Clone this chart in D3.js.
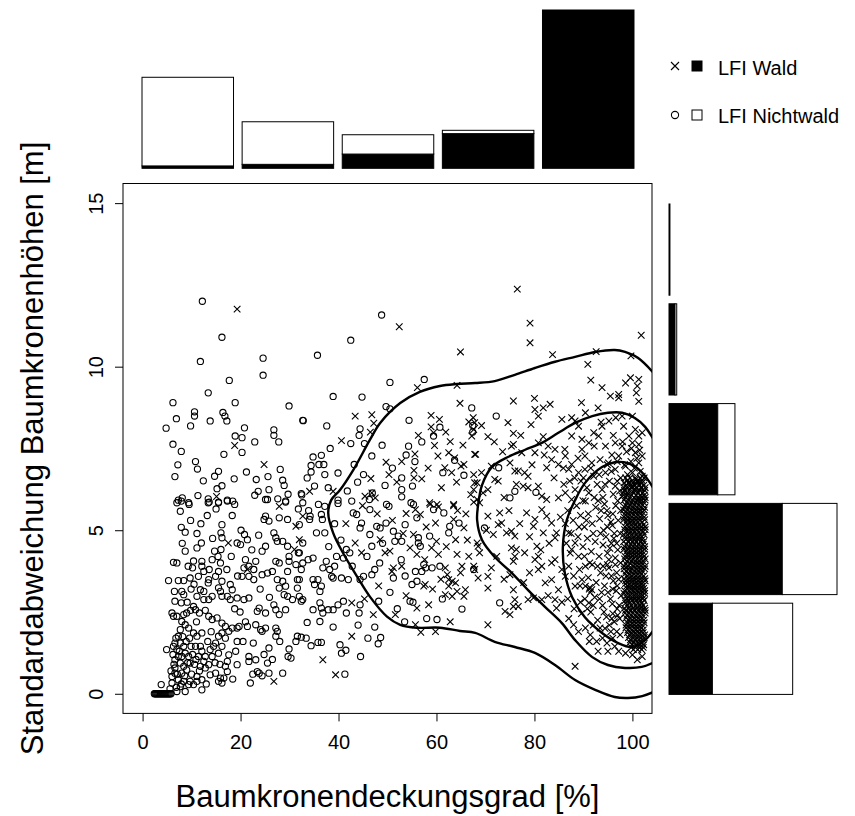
<!DOCTYPE html>
<html><head><meta charset="utf-8">
<script src="https://cdn.jsdelivr.net/npm/d3@7"></script>
<style>body{margin:0;background:#fff}svg{display:block;font-family:"Liberation Sans",Arial,Helvetica,sans-serif}</style>
</head><body><svg id="c" width="855" height="816"></svg>
<script>
// ---------- data ----------
const xTicks=[0,20,40,60,80,100];
const yTicks=[0,5,10,15];
const coverBins=["0-20","20-40","40-60","60-80","80-100"];
const coverWald=[15,25,90,219,1000];
const coverNichtwald=[560,269,122,21,0];
const sdBins=["12-15","9-12","6-9","3-6","0-3"];
const sdWald=[6,38,309,718,275];
const sdNichtwald=[0,11,109,347,509];
const legendLabels=["LFI Wald","LFI Nichtwald"];
const xTitle="Baumkronendeckungsgrad [%]";
const yTitle="Standardabweichung Baumkronenhöhen [m]";

const nichtwald=[
[12.2,12.0],[16.2,10.9],[11.8,10.16],[24.6,10.26],[24.6,9.74],[17.7,9.58],[13.4,9.2],[6.2,8.9],[18.9,8.9],[29.9,8.8],[10.6,8.62],[10.6,8.49],[6.9,8.41],[16.4,8.6],[16.8,8.49],[17.2,8.34],[13.8,8.34],[4.8,8.12],[9.8,8.19],[20.8,8.13],[18.9,7.88],[20.3,7.83],[26.8,8.07],[26.8,7.9],[27.8,7.7],[22.9,7.7],[32.7,8.36],[6.2,7.63],[7.9,7.41],[20.3,7.38],[16.6,7.32],[7.2,7.0],[10.8,7.1],[11.2,6.87],[6.6,6.64],[12.4,6.51],[14.7,6.65],[15.5,6.8],[16.2,6.36],[15.2,6.27],[18.7,6.57],[21.2,6.78],[23.2,6.55],[25.6,6.64],[28.1,6.86],[28.6,6.53],[28.9,6.37],[23.6,6.19],[22.9,6.07],[25.8,6.24],[25.5,5.94],[27.6,5.96],[29.7,6.1],[32.5,6.08],[11.3,6.06],[8.1,5.99],[7.3,5.92],[9.4,5.84],[13.4,5.96],[13.6,5.86],[15.5,5.84],[17.3,5.92],[18.4,5.89],[29.2,5.89],
[7.0,5.84],[7.9,5.89],[7.7,5.58],[9.5,5.79],[13.4,5.84],[15.5,5.86],[15.0,5.65],[17.3,5.89],[18.8,5.79],[18.3,5.45],[29.2,5.86],[31.8,5.65],[25.1,5.94],
[16.2,5.17],[25.1,5.43],[25.8,5.28],[24.8,5.33],[29.6,5.33],[27.9,5.38],[7.9,5.09],[8.7,4.94],[11.1,4.9],[16.0,4.92],[16.2,4.77],[20.1,5.0],[20.8,4.87],[21.4,4.71],[19.3,4.61],[20.0,4.56],[26.8,4.92],[27.2,4.77],[27.5,4.66],[28.6,4.66],[29.6,4.51],[29.9,4.2],[31.8,4.31],
[8.7,4.36],[12.0,4.61],[11.1,4.46],[12.1,4.05],[14.7,4.36],[16.0,4.41],[15.4,4.2],[15.9,4.0],[14.2,4.1],
[6.3,4.02],[7.0,4.0],[10.4,4.06],[10.2,3.85],[12.1,3.9],[12.5,3.74],[11.4,3.59],[13.6,3.8],[15.5,3.74],[14.9,3.59],
[5.3,3.46],[7.3,3.46],[8.4,3.46],[9.7,3.54],[13.5,3.49],[13.4,3.39],[16.2,3.44],[15.5,3.24],[15.9,3.13],[17.9,3.34],[18.3,3.18],
[6.5,3.13],[8.0,3.13],[8.4,3.03],[6.6,2.83],[7.9,2.78],[11.8,3.18],[12.5,3.13],[11.1,2.98],[14.2,2.98],[12.5,2.88],[13.5,2.88],[10.4,2.67],[10.8,2.57],[11.6,2.47],
[16.2,2.98],[17.3,2.98],[17.9,2.88],[19.3,2.93],[20.7,2.88],[21.7,2.93],
[23.8,2.62],[23.4,2.52],[25.1,2.47],[26.8,2.72],[27.2,2.57],[27.9,2.42],[29.2,2.57],[29.6,2.98],[28.9,3.03],[31.6,3.23],[32.0,2.98],[30.6,2.88],
[20.3,3.59],[21.7,3.59],[22.7,3.49],[24.4,3.64],[25.5,3.69],[26.5,3.74],[27.5,3.49],[28.6,3.44],[29.2,3.29],[27.9,3.23],
[20.7,3.85],[21.7,3.9],[22.7,3.8],[23.1,4.05],[21.0,4.1],
[24.4,4.36],[25.1,4.51],[27.2,4.05],[27.9,4.0],[29.9,4.05],[31.3,3.95],[29.6,3.74],[31.6,3.49],
[6.0,2.47],[6.3,2.37],[7.0,2.37],[8.4,2.42],[9.0,2.47],[8.0,2.21],[8.7,2.11],[9.4,2.01],
[7.7,1.96],[7.3,1.76],[6.6,1.55],[6.3,1.45],[7.0,1.35],[7.3,1.14],[8.0,1.14],[8.7,1.24],[9.4,1.14],[6.6,1.04],[7.7,0.94],[8.4,0.84],[9.7,0.94],[9.0,0.73],[8.0,0.63],[6.6,0.63],[6.0,0.53],[7.3,0.43],[8.4,0.38],[9.4,0.28],[7.7,0.22],[7.0,0.07],[8.7,0.07],[6.0,0.33],[6.6,0.79],[7.7,1.55],[8.4,1.45],
[10.4,1.86],[11.1,1.76],[12.1,1.86],[11.8,1.45],[10.8,1.45],[12.1,1.3],[12.8,1.14],[11.4,1.14],[12.5,0.99],[11.8,0.84],[12.8,0.79],[13.5,0.89],[11.1,0.53],[12.1,0.43],[11.1,0.38],[10.4,0.28],[9.7,0.38],[12.1,0.12],[13.8,0.58],[14.9,0.63],[15.5,0.38],[16.2,0.33],[15.9,0.48],[17.3,0.68],[16.9,0.84],
[13.5,2.37],[14.2,2.27],[15.2,2.32],[16.2,2.16],[16.9,2.06],[17.6,1.91],[18.3,2.01],[16.2,1.86],[15.5,1.76],[16.9,1.70],[14.9,1.55],[16.2,1.45],[15.5,1.24],[14.5,1.45],[14.2,1.14],[17.6,1.19],[17.3,0.99],[19.3,1.60],[19.3,2.01],[19.7,2.06],[21.4,2.06],[23.1,2.11],[24.1,1.96],[24.4,1.91],[25.1,2.01],[27.2,2.01],[27.5,1.91],[27.2,1.76],[25.8,1.40],[25.5,0.94],[21.7,1.14],[21.7,0.99],[23.1,1.04],[23.4,0.68],[23.8,0.63],[24.4,0.55],[25.8,0.63],[28.6,0.63],[22.0,0.33],[19.3,0.89],[16.6,0.48],[29.9,1.37],[29.7,1.14],[30.3,1.09],[31.3,1.60],[31.6,1.76],[4.9,1.35],[3.8,0.28],
[2.4,0],[2.6,0],[2.8,0],[3.0,0],[3.2,0],[3.4,0],[3.6,0],[3.8,0],[4.0,0],[4.2,0],[4.4,0],[4.6,0],[4.8,0],[5.0,0],[5.2,0],[5.4,0],[5.6,0],[5.8,0],
[6.2,1.2],[6.8,1.7],[7.5,1.3],[8.2,1.75],[8.9,1.6],[9.6,1.7],[10.2,1.2],[6.4,0.9],[7.1,0.6],[7.9,0.3],[8.6,0.55],[9.2,0.95],[10.0,0.6],[10.6,0.9],[6.9,0.2],[5.8,0.7],[5.6,0.15],[9.9,1.45],[10.9,1.05],[11.6,0.7],[13.0,0.3],[13.3,1.6],[14.0,1.9],[14.8,0.95],[15.8,0.9],[18.4,0.45],[19.0,1.3],[20.5,1.6],[22.5,0.6],[24.8,1.2],[26.5,1.05],[28.0,1.6],[9.1,2.8],[9.9,3.2],[10.5,3.35],[9.3,3.9],[8.1,4.6],[9.8,5.3],[11.9,5.2],[13.2,5.45],[14.3,4.75],[18.1,4.2],[19.4,3.6],[17.2,3.8],[22.3,4.4],[23.7,4.85],[24.0,3.2],[25.9,2.95],[19.9,2.5],[21.0,2.2],[22.6,1.55],[18.8,2.6],[12.8,2.55],[13.8,1.35],[11.0,2.2],[9.8,2.55],
[48.8,11.58],[42.5,10.81],[35.7,10.35],[50.5,9.52],[57.5,9.61],[38.9,9.09],[44.8,9.07],[49.7,8.78],[50.5,8.71],[67.2,8.74],[32.8,8.35],[37.6,8.19],[44.4,8.1],[54.4,8.36],[60.7,8.15],[59.4,7.88],[67.4,8.2],[67.4,8.0],[42.5,7.65],[45.3,7.65],[54.3,7.57],[55.6,7.1],[46.8,7.27],[63.7,7.14],[34.8,7.24],[36.5,7.29],[34.4,6.98],[36.0,7.01],[37.0,7.01],[43.2,7.01],[61.3,6.76],[65.6,6.68],[33.6,6.6],[34.4,6.78],[37.2,6.7],[35.1,6.35],[45.1,6.7],[43.9,6.47],[52.9,6.6],[55.1,6.35],[49.5,6.37],[52.9,6.24],[32.4,6.12],[46.9,6.14],[46.3,5.94],[42.7,5.89],[39.9,5.92],[52.9,6.02],[54.8,5.84],[49.8,5.79],
[35.9,5.79],[37.2,5.73],[34.2,5.43],[36.5,5.48],[36.7,5.33],[39.2,5.2],[35.5,4.92],[37.2,4.92],[39.9,5.82],[43.0,5.53],[43.7,5.48],[44.7,5.22],[44.4,5.07],[46.4,5.63],[47.8,5.12],[48.5,5.07],[49.7,5.22],[50.3,5.73],[51.2,4.97],[52.2,4.82],[52.9,4.66],[51.5,4.66],[53.6,5.17],[55.3,5.79],[56.0,5.38],[58.6,4.82],[56.3,4.77],[56.3,4.61],[56.7,4.51],[57.4,3.95],[57.8,3.85],[55.7,3.74],[57.0,3.74],[59.1,3.85],[55.0,3.34],[56.0,3.44],[54.6,2.83],[55.2,2.8],[60.1,2.27],[65.2,2.59],[62.5,4.92],[62.7,5.12],[64.6,5.22],[67.6,3.8],[61.5,5.53],[59.4,5.63],[52.8,4.1],[51.2,3.54],[48.4,4.0],[48.2,2.83],[46.8,4.51],[46.4,4.87],[47.4,3.8],[46.8,3.64],[45.1,3.59],[44.4,3.49],[42.0,3.49],[40.6,3.54],[38.9,3.54],[42.3,4.31],[41.6,4.41],[39.6,4.2],[41.0,4.15],[39.2,3.9],[38.2,3.8],[38.6,3.59],[37.5,4.05],[36.8,3.85],[34.8,3.49],[35.1,3.34],[35.8,3.49],[36.5,3.29],[36.2,3.13],[32.0,3.49],[32.7,2.88],[32.4,2.83],[34.8,2.57],[36.2,2.78],[36.5,2.62],[36.8,2.47],[37.9,2.57],[38.9,2.57],[39.9,2.72],[41.0,2.83],[33.6,2.18],[36.2,2.21],[38.9,2.04],[41.6,2.47],[44.2,2.47],[44.4,2.72],[47.4,2.04],[48.6,1.72],[48.1,1.53],[32.4,1.73],[33.4,1.7],[34.4,1.47],[35.8,1.57],[36.5,1.57],[40.3,1.5],[40.6,1.24],[41.5,1.33],[44.5,1.14],[41.3,0.6],[32.7,5.84],[34.1,5.33],[32.0,5.17],[32.7,4.61],[32.0,4.31],[32.7,4.0],[33.8,4.1],[34.8,4.15],[32.4,3.8],
[38.0,4.5],[40.5,4.7],[42.8,3.9],[45.8,4.2],[44.0,2.1],[46.0,1.7],[50.5,3.1],[53.6,3.6],[52.0,2.6],[49.0,4.6],[53.5,2.2],[58.0,2.3],[61.2,2.9],[60.7,3.9],[33.9,5.6],[37.9,6.3],[39.9,6.75],[41.8,6.2],[38.3,7.5],[44.2,7.9],[48.9,7.6],[51.0,6.9],[53.8,7.3],[57.0,7.7],
[72.2,8.49],[72.7,6.91],[76.0,6.19],[75.0,5.99],[80.3,6.16],[69.8,5.07],[72.9,2.78]
];

const wald=[
[19.3,11.76],[18.8,7.59],[24.8,7.01],[15.1,6.03],
[27.9,5.73],[31.3,5.12],[17.5,4.61],[31.0,4.41],[32.0,4.71],[26.8,0.38],[21.4,3.8],
[52.4,11.22],[64.9,10.45],[56.1,9.36],[64.2,9.43],[64.8,8.88],[43.4,8.49],[46.8,8.53],[47.2,8.27],[46.5,8.0],[58.9,8.51],[60.6,8.39],[58.9,8.16],[59.4,7.98],[59.6,7.59],[66.6,8.31],[67.5,8.44],[67.6,8.08],[67.2,7.88],[68.0,7.32],[40.6,7.74],[62.8,7.71],[55.6,7.33],[49.7,7.08],[60.3,7.27],[62.5,7.37],[63.7,7.21],[65.0,6.96],[65.6,7.01],[61.7,6.91],[63.1,6.76],[64.1,6.47],[67.6,6.7],[68.3,6.45],[46.6,6.58],[55.4,6.83],[57.0,6.57],[55.4,6.6],[51.9,6.47],[38.9,6.19],[34.1,6.19],[45.4,6.04],[46.8,6.14],[47.5,5.99],[58.6,5.84],[60.1,5.79],[63.5,5.79],[67.0,6.09],[67.6,6.24],[68.3,5.94],
[32.7,5.43],[53.8,5.51],[55.7,5.63],[56.7,5.48],[58.7,5.79],[60.4,5.71],[63.5,5.75],[67.6,5.86],[59.8,5.22],[63.5,5.33],[65.6,5.07],[48.5,4.71],[49.5,4.31],[50.5,4.36],[54.6,4.46],[55.3,4.87],[56.0,4.26],[59.0,4.46],[60.0,4.66],[60.4,4.26],[64.2,4.26],[63.9,4.71],[66.6,4.2],[65.2,3.9],[67.6,3.9],[68.3,4.61],[51.2,3.85],[52.9,3.9],[50.9,3.74],[61.8,3.85],[62.2,3.64],[62.5,3.49],[63.2,3.44],[63.9,3.39],[62.5,3.29],[64.2,3.13],[61.8,3.03],[63.2,2.98],[65.6,2.98],[65.9,3.18],[57.4,3.29],[57.7,3.34],[56.0,2.62],[58.4,2.72],[42.7,2.78],[47.1,2.42],[51.6,2.42],[55.7,2.11],[56.8,1.88],[42.7,1.76],[36.8,1.04],[39.4,0.58],[44.7,4.31],[43.4,4.61],
[41.5,5.2],[44.9,5.75],[47.9,5.5],[51.0,5.3],[53.2,4.9],[57.6,4.1],[59.2,3.2],[60.9,3.5],[64.9,3.7],[66.3,4.7],[62.0,4.5],[57.9,5.1],[50.3,6.7],[52.9,7.1],[56.3,7.9],[61.9,8.0],[65.4,7.6],[58.3,6.9],[61.0,6.3],[64.3,5.6],[66.0,5.5],[48.2,3.3],[45.3,2.9],[53.8,3.0],[59.8,1.9],[62.8,2.2],
[76.5,12.37],[79.1,11.33],[79.1,10.73],[101.8,10.96],[83.7,10.37],[92.6,10.46],[99.7,10.33],[90.9,10.07],[91.5,9.59],[93.8,9.36],[99.6,9.66],[101.3,9.61],[101.0,9.41],[100.8,9.2],[101.3,8.94],[97.2,9.15],[97.2,9.05],
[87.6,7.88],[89.7,7.78],[91.1,7.67],[92.1,7.98],[93.1,7.88],[92.2,7.57],[94.5,7.57],[96.5,7.67],[97.9,7.57],[99.3,7.88],[100.0,7.67],[101.3,7.62],[100.6,7.37],[102.0,7.27],[97.2,7.27],[95.1,7.06],[93.4,7.16],[91.7,7.06],[90.3,7.27],[89.7,7.47],[86.3,7.27],[84.9,7.01],[83.5,7.16],[87.0,6.86],[90.3,6.86],[92.1,6.65],[94.5,6.76],[96.5,6.86],[98.6,6.96],[100.0,6.76],[101.3,7.06],[102.0,6.65],[99.3,6.45],[96.5,6.35],[93.8,6.24],[91.1,6.14],[88.3,6.24],[86.3,6.14],[84.9,5.99],[87.6,5.94],[90.4,5.89],[97.9,6.04],[100.6,6.24],[101.3,5.94],[81.5,6.04],[82.5,5.94],[78.7,6.3],[80.8,6.35],[77.7,6.35],[76.3,6.4],[72.6,6.5],[71.9,6.55],[78.0,6.76],[78.7,6.65],[76.0,6.81],[76.7,6.81],[75.0,7.06],[82.5,6.91],[87.6,7.01],[89.0,6.76],[67.8,7.32],[71.2,6.96],[69.2,6.76],[69.5,6.14],[67.8,6.45],[70.5,6.24],[81.8,7.86],[80.8,7.67],[82.8,7.57],[84.2,7.47],[86.2,7.47],[80.1,7.37],[77.4,7.37],[75.7,7.62],[75.3,7.57],[85.6,8.39],[87.6,8.44],[88.3,8.34],[90.4,8.59],[93.0,8.74],[89.0,8.18],[93.8,8.18],[95.2,8.34],[96.6,8.44],[97.9,8.49],[100.0,8.49],[98.2,8.18],[100.6,8.08],[101.3,7.88],[102.0,7.98],[74.6,8.29],[79.3,8.23],[75.7,7.96],[70.5,7.86],[69.2,8.2],[67.8,8.29],[75.7,8.95],[80.0,9.03],[80.1,8.69],[81.8,8.74],[83.2,8.85],[80.8,8.49],
[68.8,5.84],[70.5,5.43],[72.9,5.53],[73.3,5.22],[72.6,5.17],[75.3,4.97],[76.0,4.82],[74.3,4.92],[71.6,4.87],[78.4,5.53],[80.1,5.33],[79.8,5.12],[81.5,5.63],[82.5,5.43],[83.5,5.22],[84.5,4.92],[84.2,4.77],[81.8,4.92],[75.3,4.46],[76.3,4.41],[76.0,4.2],[75.7,4.05],[78.0,4.31],[80.5,4.51],[80.8,4.2],[80.1,4.1],[68.5,4.51],[68.8,4.31],[67.8,3.8],[68.5,3.54],[70.5,3.59],[71.2,3.85],[70.5,3.23],[75.0,3.64],[75.7,3.18],[76.0,2.88],[75.7,2.67],[74.0,2.52],[75.0,2.42],[76.7,2.67],[78.7,2.88],[79.8,2.93],[81.5,2.88],[84.2,2.88],[84.5,2.62],[80.8,3.8],[81.5,3.9],[83.5,4.0],[84.2,4.1],[85.6,3.8],[86.3,3.59],[83.5,3.49],[82.2,3.39],[84.9,3.18],[70.5,2.11],[88.3,0.84],[88.0,2.11],[90.4,2.01],[91.4,1.8],[93.4,2.01],[97.2,1.3],[98.6,1.24],[100.0,1.19],[101.0,1.04],[102.0,1.14],[87.0,4.92],[88.3,4.61],[87.6,4.41],[89.0,4.2],[90.4,3.9],[89.7,3.49],[88.3,3.29],[90.4,3.29],[91.7,3.18],[91.1,2.78],
[73.8,6.0],[74.8,5.6],[77.0,5.2],[79.0,4.8],[81.3,4.4],[83.0,4.6],[85.3,5.4],[86.0,6.4],[84.0,6.6],[82.0,7.3],[79.5,7.0],[77.2,7.9],[73.5,7.4],[71.8,7.7],[70.2,5.0],[72.3,4.2],[73.8,3.5],[77.8,3.4],[79.0,3.7],[82.8,3.0],[85.6,2.8],[87.0,2.3],[89.0,1.9],[89.9,5.9],[92.2,6.0],[94.9,7.0],[96.1,7.9],[93.6,8.3],[89.6,8.9],[95.5,9.1],[98.6,9.5],
[86.8,5.6],[87.9,5.3],[88.6,5.75],[89.4,5.45],[90.2,5.1],[91.0,5.5],[91.8,5.2],[92.5,5.7],[93.3,5.35],[94.1,5.0],[94.8,5.6],[95.6,5.25],[96.3,4.9],
[86.5,4.6],[87.3,4.3],[88.9,4.8],[89.9,4.5],[90.8,4.75],[91.6,4.35],[92.4,4.65],[93.2,4.2],[94.0,4.55],[94.9,4.3],[95.7,4.6],[96.5,4.15],
[87.0,3.9],[88.0,3.6],[89.2,3.8],[91.0,3.55],[91.8,3.95],[92.6,3.4],[93.5,3.7],[94.3,3.3],[95.2,3.85],[96.1,3.45],[96.8,3.7],
[86.8,2.9],[88.1,2.6],[89.6,2.45],[90.3,2.9],[91.5,2.5],[92.3,2.95],[92.9,2.25],[93.9,2.7],[94.7,2.35],[95.5,2.9],[96.3,2.2],[96.9,2.6],
[91.2,3.2],[91.4,3.1],[91.3,3.25],[93.9,1.7],[94.8,1.55],[95.6,1.9],[96.4,1.45],[92.7,1.6],
[88.2,6.6],[89.5,6.5],[90.7,6.3],[92.8,6.4],[94.0,6.0],[95.3,6.5],[96.1,6.1],[97.0,5.9],
[95.8,7.3],[96.9,7.1],[97.6,6.6],[98.4,7.0],[99.0,6.7],[99.7,7.1],[100.4,6.9],[101.0,6.5],[101.6,6.8],[98.0,7.7],[98.8,7.4],[99.8,7.5],[100.9,7.2],[101.5,7.45],[97.4,6.2],[98.3,6.3],[99.1,6.1],[99.9,6.35],[100.7,6.55],[101.8,6.3],
[94.3,5.8],[95.0,5.45],[95.9,5.15],[96.6,5.75],[97.1,5.3],[94.6,4.8],[95.4,4.45],[96.2,4.75],[97.0,4.4],[94.9,3.95],[95.7,3.6],[96.5,3.95],[97.2,3.5],[95.0,3.1],[95.9,2.75],[96.7,3.15],[97.3,2.7],[95.3,2.1],[96.0,2.45],[96.8,1.9],[97.4,2.3],[93.5,4.9],[93.0,5.9],[93.7,3.1],[94.4,2.0],
[85.9,6.9],[87.2,6.5],[88.9,7.2],[90.0,6.6],[91.5,6.9],[93.2,6.7],[94.4,6.4],[95.7,6.8],[96.9,6.5],[97.6,5.6],[96.0,5.5],[94.9,5.1],[93.6,5.6],[92.0,4.9],[90.6,5.3],[89.1,5.1],[87.5,4.9],[86.3,5.2],[97.5,4.9],[96.8,4.6],[95.2,4.1],[94.0,3.9],[92.9,3.9],[91.3,4.0],[90.2,4.2],[89.3,3.3],[97.6,4.0],[96.9,3.3],[96.0,3.2],[94.6,3.6],[93.3,2.9],[92.0,2.7],[90.8,2.6],[89.4,2.8],[97.7,3.0],[97.0,2.4],[95.8,2.3],[94.2,2.5],[92.0,2.1],[91.2,1.6],[96.0,1.7],[97.5,1.8],[95.0,1.3],[93.0,1.3]
];

// dense core of the Wald cloud, read row by row: [sd, [cover values]]
const waldDenseRows=[
[6.6,[98.6,99.5,100.6,101.6,102.4]],
[6.52,[99.0,100.0,101.1,102.0]],
[6.45,[98.3,99.2,100.1,101.1,102.0]],
[6.37,[98.7,99.6,100.5,101.4,102.3]],
[6.3,[98.8,99.8,100.7,101.7,102.6]],
[6.22,[98.4,99.4,100.4,101.5,102.5]],
[6.15,[98.1,99.0,100.3,101.2,102.2]],
[6.07,[98.9,99.9,100.8,101.6,102.4]],
[6.0,[98.6,99.4,100.3,101.1,101.9,102.6]],
[5.92,[98.3,99.2,100.0,100.9,101.8,102.6]],
[5.85,[98.9,99.8,100.6,101.5,102.3]],
[5.77,[98.6,99.5,100.4,101.3,102.1]],
[5.7,[98.4,99.2,100.1,100.9,101.7,102.5]],
[5.62,[98.2,99.0,99.9,100.7,101.5,102.4]],
[5.55,[98.7,99.6,100.5,101.3,102.1]],
[5.47,[98.6,99.5,100.3,101.1,102.0]],
[5.4,[98.3,99.1,99.9,100.8,101.6,102.4]],
[5.32,[98.2,99.0,99.9,100.7,101.5,102.5]],
[5.25,[98.8,99.7,100.4,101.2,102.0]],
[5.17,[98.9,99.8,100.6,101.4,102.3]],
[5.1,[98.5,99.3,100.2,101.0,101.8,102.6]],
[5.02,[98.4,99.2,100.1,100.9,101.8,102.6]],
[4.95,[99.0,99.8,100.6,101.4,102.2]],
[4.87,[98.2,99.0,99.9,100.8,101.6,102.4]],
[4.8,[98.6,99.4,100.3,101.1,101.9]],
[4.72,[98.7,99.5,100.4,101.2,102.0]],
[4.65,[98.2,99.1,99.9,100.7,101.6,102.3]],
[4.57,[98.8,99.7,100.5,101.3,102.2]],
[4.5,[98.4,99.3,100.1,100.9,101.7,102.5]],
[4.42,[98.3,99.1,100.0,100.8,101.6,102.5]],
[4.35,[98.8,99.7,100.5,101.3,102.1]],
[4.27,[98.9,99.7,100.5,101.3,102.1]],
[4.2,[98.5,99.2,100.0,100.8,101.6,102.4]],
[4.12,[98.4,99.3,100.1,101.0,101.8,102.6]],
[4.05,[98.9,99.8,100.6,101.4,102.2]],
[3.97,[98.7,99.6,100.5,101.3,102.1]],
[3.9,[98.3,99.1,100.2,101.0,101.8,102.6]],
[3.82,[98.3,99.2,100.0,100.9,101.7,102.5]],
[3.75,[98.7,99.5,100.4,101.2,102.0]],
[3.67,[98.5,99.4,100.3,101.1,101.9]],
[3.6,[99.0,99.9,100.7,101.5,102.3]],
[3.52,[98.3,99.1,100.0,100.8,101.6,102.5]],
[3.45,[98.6,99.4,100.2,101.1,101.9,102.6]],
[3.37,[98.6,99.5,100.4,101.2,102.0]],
[3.3,[98.9,99.7,100.6,101.4,102.2]],
[3.22,[98.9,99.8,100.6,101.4,102.3]],
[3.15,[98.4,99.3,100.1,100.9,101.7,102.5]],
[3.07,[98.3,99.2,100.0,100.8,101.7,102.5]],
[3.0,[98.8,99.6,100.5,101.3,102.1]],
[2.92,[98.9,99.8,100.6,101.4,102.2]],
[2.85,[98.5,99.2,100.0,100.8,101.6,102.4]],
[2.77,[98.6,99.4,100.3,101.1,101.9]],
[2.7,[99.0,99.8,100.7,101.5,102.2]],
[2.62,[98.4,99.2,100.1,100.9,101.7,102.5]],
[2.55,[98.6,99.5,100.3,101.1,101.9,102.6]],
[2.47,[98.5,99.3,100.1,101.0,101.8,102.6]],
[2.4,[98.9,99.7,100.5,101.3,102.1]],
[2.32,[98.7,99.5,100.4,101.2,102.0]],
[2.25,[99.2,100.0,100.8,101.6,102.3]],
[2.17,[99.0,99.9,100.7,101.5,102.4]],
[2.1,[98.7,99.6,100.4,101.2,102.0]],
[2.02,[98.7,99.5,100.4,101.1,101.9]],
[1.95,[99.1,99.9,100.7,101.5,102.2]],
[1.87,[99.0,99.8,100.6,101.4,102.2]],
[1.8,[99.4,100.2,101.0,101.8,102.5]],
[1.72,[99.2,100.1,100.9,101.7,102.4]],
[1.65,[99.6,100.5,101.3,102.1]],
[1.57,[99.5,100.3,101.2,101.9]],
[1.5,[99.9,100.8,101.6,102.3]],
[1.42,[99.8,100.6,101.5,102.2]],
[1.35,[100.2,101.1,101.9]]
];

// density contour lines
const contourOuter=[[105,9.7],[101.1,10.27],[98.5,10.45],[96.4,10.51],[92.4,10.45],[88.3,10.30],[84.2,10.15],[80.1,9.96],[76.0,9.75],[71.9,9.56],[67.9,9.50],[64.2,9.47],[60.7,9.41],[56.6,9.23],[52.6,8.89],[48.5,8.28],[46.4,7.76],[43.0,6.84],[40.3,6.23],[38.5,5.92],[37.9,5.53],[38.9,4.92],[40.9,4.31],[43.8,3.58],[46.4,2.97],[49.9,2.36],[52.6,2.11],[56.0,2.02],[60.7,2.02],[64.8,1.92],[67.9,1.86],[71.9,1.59],[76.0,1.43],[80.1,1.25],[84.2,0.88],[88.3,0.42],[92.4,0.12],[96.4,-0.10],[99.1,-0.13],[102.0,-0.07],[105,0.1]];
const contourMiddle=[[105,7.6],[102.6,8.16],[100.5,8.43],[97.9,8.59],[95.0,8.59],[91.8,8.49],[88.3,8.28],[84.8,7.97],[81.5,7.67],[78.1,7.46],[74.6,7.24],[71.3,6.93],[69.3,6.38],[68.5,5.77],[68.3,5.31],[69.3,4.70],[71.9,4.18],[75.4,3.69],[78.7,3.17],[82.2,2.65],[85.6,2.16],[88.3,1.64],[91.8,1.12],[95.0,0.88],[98.5,0.79],[101.9,0.82],[105,1.0]];
const contourInner=[[105,6.1],[101.9,6.78],[99.1,7.05],[96.4,7.08],[93.8,6.93],[90.3,6.44],[88.3,5.92],[86.6,5.31],[85.8,4.48],[86.2,3.69],[87.7,2.95],[90.3,2.34],[93.8,1.86],[97.1,1.55],[99.9,1.43],[102.6,1.64],[105,2.1]];

// ---------- drawing ----------
const svg=d3.select("#c");
const x=d3.scaleLinear().domain([-4,104]).range([123,652]);
const y=d3.scaleLinear().domain([-0.6,15.6]).range([713.4,183.5]);

svg.append("defs").append("clipPath").attr("id","clip")
  .append("rect").attr("x",x(-4)).attr("y",y(15.6)).attr("width",x(104)-x(-4)).attr("height",y(-0.6)-y(15.6));

const plot=svg.append("g").attr("clip-path","url(#clip)");

const allWald=wald.concat(waldDenseRows.flatMap(([sd,xs])=>xs.map(v=>[v,sd])));

plot.append("g").selectAll("circle").data(nichtwald).join("circle")
  .attr("cx",d=>x(d[0])).attr("cy",d=>y(d[1])).attr("r",3.1)
  .attr("fill","none").attr("stroke","#000").attr("stroke-width",1.1);

const cross="M-3.3,-3.3L3.3,3.3M-3.3,3.3L3.3,-3.3";
plot.append("g").selectAll("path").data(allWald).join("path")
  .attr("d",cross).attr("transform",d=>`translate(${x(d[0])},${y(d[1])})`)
  .attr("fill","none").attr("stroke","#000").attr("stroke-width",1.1);

const line=d3.line().x(d=>x(d[0])).y(d=>y(d[1])).curve(d3.curveCatmullRom.alpha(0.5));
plot.append("g").selectAll("path").data([contourOuter,contourMiddle,contourInner]).join("path")
  .attr("d",line).attr("fill","none").attr("stroke","#000").attr("stroke-width",2.4);

// box
svg.append("rect").attr("x",x(-4)).attr("y",y(15.6)).attr("width",x(104)-x(-4)).attr("height",y(-0.6)-y(15.6))
  .attr("fill","none").attr("stroke","#000").attr("stroke-width",1);

// axes
const gx=svg.append("g").attr("transform",`translate(0,${y(-0.6)})`)
  .call(d3.axisBottom(x).tickValues(xTicks).tickSize(8).tickSizeOuter(0));
gx.select(".domain").remove();
gx.selectAll("line").attr("stroke","#000");
gx.selectAll("text").attr("y",35.6).attr("dy",0).attr("font-size",20).attr("fill","#000").attr("font-family","Liberation Sans, Arial, sans-serif");

const gy=svg.append("g").attr("transform",`translate(${x(-4)},0)`)
  .call(d3.axisLeft(y).tickValues(yTicks).tickSize(8).tickSizeOuter(0));
gy.select(".domain").remove();
gy.selectAll("line").attr("stroke","#000");
gy.selectAll("text").attr("x",0).attr("y",-20).attr("dy",0).attr("text-anchor","middle")
  .attr("transform","rotate(-90)").attr("font-size",20).attr("fill","#000").attr("font-family","Liberation Sans, Arial, sans-serif");

svg.append("text").attr("x",(x(-4)+x(104))/2).attr("y",807).attr("text-anchor","middle")
  .attr("font-size",31).text(xTitle);
svg.append("text").attr("transform",`translate(43,${(y(-0.6)+y(15.6))/2}) rotate(-90)`).attr("text-anchor","middle")
  .attr("font-size",31).text(yTitle);

// top marginal bars
const bx=d3.scaleBand().domain(coverBins).range([137.7,638.3]).paddingInner(0.086).paddingOuter(0.043);
const by=d3.scaleLinear().domain([0,1000]).range([168.3,10]);
const topBars=svg.append("g");
coverBins.forEach((b,i)=>{
  const w=coverWald[i], n=coverNichtwald[i];
  topBars.append("rect").attr("x",bx(b)).attr("width",bx.bandwidth()).attr("y",by(w)).attr("height",by(0)-by(w))
    .attr("fill","#000").attr("stroke","#000").attr("stroke-width",1);
  if(n>0) topBars.append("rect").attr("x",bx(b)).attr("width",bx.bandwidth()).attr("y",by(w+n)).attr("height",by(w)-by(w+n))
    .attr("fill","#fff").attr("stroke","#000").attr("stroke-width",1);
});

// right marginal bars
const ry=d3.scaleBand().domain(sdBins).range([199.7,698.7]).paddingInner(0.086).paddingOuter(0.043);
const rx=d3.scaleLinear().domain([0,1065]).range([669,837]);
const rightBars=svg.append("g");
sdBins.forEach((b,i)=>{
  const w=sdWald[i], n=sdNichtwald[i];
  rightBars.append("rect").attr("y",ry(b)).attr("height",ry.bandwidth()).attr("x",rx(0)).attr("width",Math.max(rx(w)-rx(0),0.5))
    .attr("fill","#000").attr("stroke","#000").attr("stroke-width",1);
  if(n>0) rightBars.append("rect").attr("y",ry(b)).attr("height",ry.bandwidth()).attr("x",rx(w)).attr("width",rx(w+n)-rx(w))
    .attr("fill","#fff").attr("stroke","#000").attr("stroke-width",1);
});

// legend
const lg=svg.append("g");
lg.append("path").attr("d","M-4,-4L4,4M-4,4L4,-4").attr("transform","translate(675,66)").attr("fill","none").attr("stroke","#000").attr("stroke-width",1.1);
lg.append("rect").attr("x",692).attr("y",61).attr("width",10).attr("height",10).attr("fill","#000").attr("stroke","#000");
lg.append("text").attr("x",718).attr("y",75).attr("font-size",20).text(legendLabels[0]);
lg.append("circle").attr("cx",675).attr("cy",115).attr("r",3.6).attr("fill","none").attr("stroke","#000").attr("stroke-width",1.1);
lg.append("rect").attr("x",692).attr("y",110).attr("width",10).attr("height",10).attr("fill","#fff").attr("stroke","#000");
lg.append("text").attr("x",718).attr("y",122.7).attr("font-size",20).text(legendLabels[1]);
</script></body></html>
